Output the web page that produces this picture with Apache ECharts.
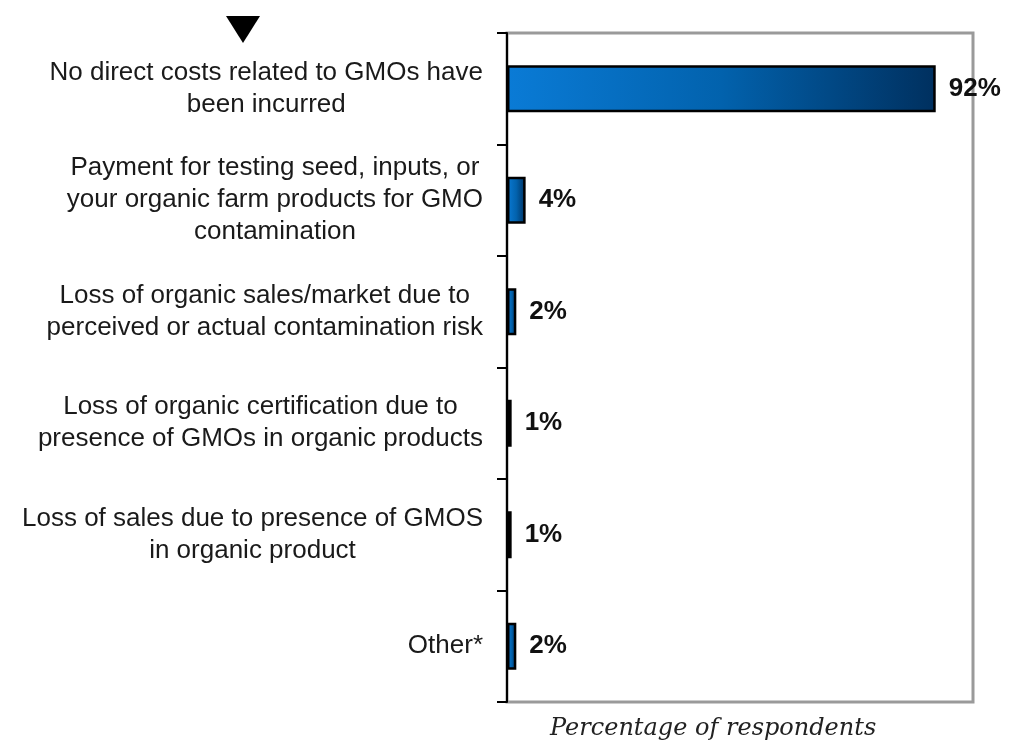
<!DOCTYPE html>
<html>
<head>
<meta charset="utf-8">
<script src="https://cdn.jsdelivr.net/npm/echarts@6/dist/echarts.min.js"></script>
<style>
  html, body { margin: 0; padding: 0; background: #ffffff; }
  #chart { width: 1009px; height: 743px; }
</style>
</head>
<body>
<div id="chart"></div>
<script>
const categories = [
  "No direct costs related to GMOs have\nbeen incurred",
  "Payment for testing seed, inputs, or\nyour organic farm products for GMO\ncontamination",
  "Loss of organic sales/market due to\nperceived or actual contamination risk",
  "Loss of organic certification due to\npresence of GMOs in organic products",
  "Loss of sales due to presence of GMOS\nin organic product",
  "Other*"
];
const values = [92, 4, 2, 1, 1, 2];
const axisTitle = "Percentage of respondents";

const chart = echarts.init(document.getElementById('chart'), null, { renderer: 'canvas' });

const labelFont = "'Liberation Sans', Arial, Helvetica, sans-serif";

const option = {
  backgroundColor: '#ffffff',
  animation: false,
  title: {
    text: axisTitle,
    left: 545,
    top: 712,
    textStyle: {
      fontFamily: "'DejaVu Serif', 'Liberation Serif', serif",
      fontStyle: 'italic',
      fontWeight: 'normal',
      fontSize: 24,
      color: '#222222'
    }
  },
  grid: {
    left: 507,
    right: 36,
    top: 33,
    bottom: 41,
    show: true,
    borderColor: '#9a9a9a',
    borderWidth: 3,
    backgroundColor: 'transparent'
  },
  xAxis: {
    type: 'value',
    min: 0,
    max: 100,
    show: true,
    axisLine: { show: false },
    axisTick: { show: false },
    axisLabel: { show: false },
    splitLine: { show: false }
  },
  yAxis: {
    type: 'category',
    data: categories,
    inverse: true,
    axisLine: { show: true, lineStyle: { color: '#000000', width: 2 } },
    axisTick: { show: true, length: 10, lineStyle: { color: '#000000', width: 2 } },
    splitLine: { show: false },
    axisLabel: {
      margin: 24,
      fontFamily: labelFont,
      fontSize: 26,
      lineHeight: 32,
      color: '#1a1a1a',
      formatter: function (v) {
        return v.split('\n').map(function (l) { return '{c|' + l + '}'; }).join('\n');
      },
      rich: {
        c: {
          align: 'center',
          fontFamily: labelFont,
          fontSize: 26,
          lineHeight: 32,
          color: '#1a1a1a'
        }
      }
    }
  },
  graphic: [
    {
      type: 'polygon',
      shape: { points: [[226, 16], [260, 16], [243, 43]] },
      style: { fill: '#000000' }
    }
  ],
  series: [
    {
      type: 'bar',
      data: values,
      barWidth: 47,
      itemStyle: {
        borderColor: '#000000',
        borderWidth: 2.5,
        color: new echarts.graphic.LinearGradient(0, 0, 1, 0, [
          { offset: 0, color: '#0a7bd6' },
          { offset: 0.5, color: '#0262ad' },
          { offset: 1, color: '#00305f' }
        ])
      },
      label: {
        show: true,
        position: 'right',
        distance: 13,
        formatter: '{c}%',
        fontFamily: labelFont,
        fontWeight: 'bold',
        fontSize: 26,
        color: '#111111'
      }
    }
  ]
};

chart.setOption(option);
</script>
</body>
</html>
